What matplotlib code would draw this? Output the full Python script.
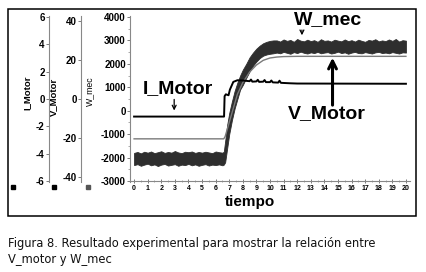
import numpy as np
import matplotlib
matplotlib.use("Agg")
import matplotlib.pyplot as plt
from matplotlib.patches import Rectangle
from matplotlib.lines import Line2D
from matplotlib.ticker import MultipleLocator

plt.rcParams['font.family'] = ['Liberation Sans', 'DejaVu Sans']
plt.rcParams['axes.unicode_minus'] = False

# ---------------- data ----------------
# W_mec noisy band (upper / lower envelope), steady before step
t_w_pre = np.arange(0, 6.51, 0.25)
w_up_pre = [-1800, -1760, -1820, -1750, -1790, -1740, -1810, -1770, -1730, -1800,
            -1760, -1790, -1720, -1780, -1810, -1750, -1770, -1740, -1800, -1760,
            -1790, -1750, -1780, -1810, -1740, -1770, -1790]
w_lo_pre = [-2320, -2280, -2350, -2300, -2260, -2330, -2290, -2360, -2300, -2270,
            -2340, -2310, -2280, -2350, -2300, -2320, -2270, -2330, -2290, -2350,
            -2310, -2280, -2340, -2300, -2320, -2290, -2330]
# transition
t_w_tr = [6.6, 6.7, 6.85, 7.0, 7.2, 7.4, 7.6, 7.8, 8.0, 8.25, 8.5, 8.75, 9.0,
          9.25, 9.5, 9.75, 10.0, 10.25]
w_up_tr = [-1750, -1300, -600, -100, 400, 850, 1200, 1500, 1750, 2000, 2280, 2480,
           2650, 2780, 2880, 2940, 2980, 3000]
w_lo_tr = [-2300, -2200, -1600, -1000, -400, 100, 500, 900, 1100, 1400, 1680, 1920,
           2100, 2250, 2350, 2400, 2430, 2450]
# steady after
t_w_post = np.arange(10.5, 20.01, 0.25)
w_up_post = [3000, 2950, 3040, 2980, 3020, 2940, 3060, 2990, 2960, 3030,
             2970, 3010, 2940, 3050, 2980, 3000, 2950, 3030, 2990, 2960,
             3040, 2970, 3010, 2950, 3030, 2980, 2940, 3020, 2990, 3050,
             2960, 3000, 2970, 3040, 2980, 3060, 2950, 3010, 2990]
w_lo_post = [2480, 2450, 2510, 2470, 2430, 2500, 2460, 2520, 2470, 2440,
             2490, 2460, 2510, 2450, 2480, 2500, 2440, 2470, 2520, 2460,
             2490, 2430, 2480, 2510, 2460, 2450, 2500, 2470, 2440, 2490,
             2510, 2460, 2480, 2450, 2500, 2470, 2440, 2490, 2480]

# I_Motor (black line)
t_i = [0, 6.62, 6.66, 6.75, 6.95, 7.05, 7.3, 7.6, 8.0, 8.5, 8.6, 8.7, 9.0, 9.1, 9.2,
       9.5, 9.6, 9.7, 10.0, 10.1, 10.2, 10.6, 10.7, 10.8, 11.5, 12.0, 20.0]
i_motor = [-250, -250, 620, 700, 660, 900, 1230, 1300, 1290, 1260, 1330, 1240, 1250,
           1320, 1230, 1240, 1310, 1220, 1220, 1290, 1210, 1200, 1280, 1190, 1170,
           1160, 1150]

# V_Motor (thin gray line)
t_v = [0, 6.6, 6.7, 7.0, 7.3, 7.6, 8.0, 8.5, 9.0, 9.5, 10.0, 10.5, 11.0, 12.0, 20.0]
v_motor = [-1200, -1200, -1100, -500, 100, 700, 1200, 1650, 1950, 2150, 2250, 2290,
           2310, 2320, 2320]

x_ticks = list(range(0, 21))
y_ticks = [-3000, -2000, -1000, 0, 1000, 2000, 3000, 4000]
i_ticks = [-6, -4, -2, 0, 2, 4, 6]
v_ticks = [-40, -20, 0, 20, 40]

# ---------------- figure ----------------
W, H = 426, 272
fig = plt.figure(figsize=(W / 100, H / 100), dpi=100)

def fx(px):
    return px / W

def fy(py):
    return 1 - py / H

ax_top, ax_bot = 15.8, 182.2
bottom = fy(ax_bot)
height = (ax_bot - ax_top) / H

ax = fig.add_axes([fx(130), bottom, fx(280), height])
ax.set_facecolor('none')

t_w = np.concatenate([t_w_pre, t_w_tr, t_w_post])
w_up = np.concatenate([w_up_pre, w_up_tr, w_up_post])
w_lo = np.concatenate([w_lo_pre, w_lo_tr, w_lo_post])
ax.fill_between(t_w, w_lo, w_up, color='#2e2e2e', lw=0.6, edgecolor='#2e2e2e', zorder=2)

ax.plot(t_v, v_motor, color='#7a7a7a', lw=1.0, zorder=3)
ax.plot(t_i, i_motor, color='black', lw=1.4, zorder=4)

ax.set_xlim(-0.3, 20.3)
ax.set_ylim(-3050, 4050)
ax.set_xticks(x_ticks)
ax.set_yticks(y_ticks)
ax.xaxis.set_minor_locator(MultipleLocator(0.5))
ax.yaxis.set_minor_locator(MultipleLocator(500))
for s in ['top', 'right']:
    ax.spines[s].set_visible(False)
for s in ['left', 'bottom']:
    ax.spines[s].set_color('#888888')
    ax.spines[s].set_linewidth(0.8)
ax.spines['bottom'].set_position(('data', -3000))
ax.tick_params(axis='x', which='major', direction='inout', length=3, width=0.6,
               color='#666666', labelsize=5, pad=1.5)
ax.tick_params(axis='x', which='minor', direction='inout', length=2, width=0.5,
               color='#888888')
ax.tick_params(axis='y', which='major', direction='out', length=2, width=0.6,
               color='#666666', labelsize=7, pad=1)
ax.tick_params(axis='y', which='minor', direction='out', length=1.2, width=0.5,
               color='#888888')
for lab in ax.get_xticklabels() + ax.get_yticklabels():
    lab.set_fontweight('bold')

ax.set_xlabel('tiempo', fontsize=11, fontweight='bold')
ax.xaxis.set_label_coords(fx(250), fy(202), transform=fig.transFigure)
ax.xaxis.label.set_va('center')
ax.set_ylabel('W_mec', fontsize=6.3)
ax.yaxis.set_label_coords(fx(89.5), fy(91), transform=fig.transFigure)
ax.yaxis.label.set_va('center')

# annotations
ax.text(14.25, 3880, 'W_mec', fontsize=14, fontweight='bold', ha='center', va='center')
ax.annotate('', xy=(12.35, 3100), xytext=(12.35, 3560),
            arrowprops=dict(arrowstyle='->', lw=0.9, color='black', mutation_scale=7))
ax.text(3.2, 940, 'I_Motor', fontsize=14, fontweight='bold', ha='center', va='center')
ax.annotate('', xy=(2.95, -110), xytext=(2.95, 600),
            arrowprops=dict(arrowstyle='->', lw=0.9, color='black', mutation_scale=7))
ax.text(14.2, -130, 'V_Motor', fontsize=14, fontweight='bold', ha='center', va='center',
        zorder=5)
ax.annotate('', xy=(14.6, 2380), xytext=(14.6, 120),
            arrowprops=dict(arrowstyle='->', lw=2.2, color='black', mutation_scale=14),
            zorder=6)

# secondary axes
def side_axis(xpx, lim, ticks, label, lab_x, lab_y):
    a = fig.add_axes([fx(xpx), bottom, 0.0001, height])
    a.set_facecolor('none')
    for s in ['top', 'right', 'bottom']:
        a.spines[s].set_visible(False)
    a.spines['left'].set_color('#888888')
    a.spines['left'].set_linewidth(0.8)
    a.set_xticks([])
    a.set_ylim(*lim)
    a.set_yticks(ticks)
    a.tick_params(axis='y', direction='out', length=2, width=0.6, color='#666666',
                  labelsize=7, pad=1)
    for lab in a.get_yticklabels():
        lab.set_fontweight('bold')
    a.set_ylabel(label, fontsize=6.8, fontweight='bold')
    a.yaxis.set_label_coords(fx(lab_x), fy(lab_y), transform=fig.transFigure)
    a.yaxis.label.set_va('center')
    return a

side_axis(49, (-6.08, 6.08), i_ticks, 'I_Motor', 26.5, 93)
side_axis(81, (-42.5, 42.5), v_ticks, 'V_Motor', 53.5, 97)

# legend squares
for px, col in [(12.5, 'black'), (54, 'black'), (87.5, '#555555')]:
    fig.add_artist(Line2D([fx(px)], [fy(187)], marker='s', markersize=3.5,
                          color=col, linestyle='none', transform=fig.transFigure))

# outer box
fig.add_artist(Rectangle((fx(8), fy(216)), fx(408), (216 - 9) / H, fill=False,
                         lw=1.1, edgecolor='black', transform=fig.transFigure))

# caption
fig.text(fx(8), fy(243), 'Figura 8. Resultado experimental para mostrar la relación entre',
         fontsize=8.3, family='DejaVu Sans', va='center', ha='left', color='#111111')
fig.text(fx(8), fy(260), 'V_motor y W_mec',
         fontsize=8.3, family='DejaVu Sans', va='center', ha='left', color='#111111')

fig.savefig('out.png', dpi=100)
